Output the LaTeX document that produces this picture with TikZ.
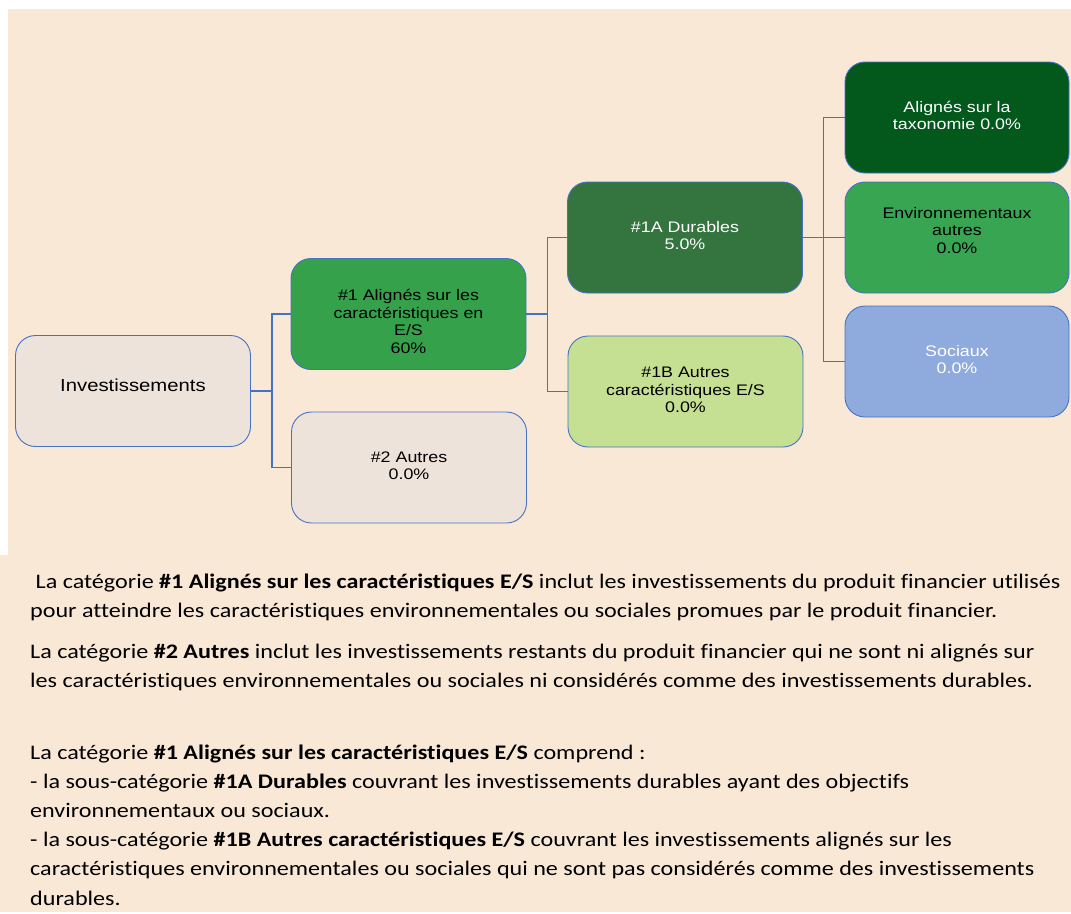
\documentclass[tikz,border=0pt]{standalone}
\usepackage{fontspec}
\usepackage{xcolor}
\usepackage{tikz}
\usetikzlibrary{positioning}
\usetikzlibrary{calc}

\newfontfamily\boitefont[FakeStretch=1.167]{Liberation Sans}
\newfontfamily\textefont[FakeStretch=1.165, Ligatures={NoCommon}]{Carlito}

\definecolor{peche}{HTML}{FAE8D7}
\definecolor{bordure}{HTML}{4472C4}
\definecolor{gris}{HTML}{EEE3DA}
\definecolor{vertA}{HTML}{35A24B}
\definecolor{vertB}{HTML}{34753F}
\definecolor{vertC}{HTML}{03581C}
\definecolor{vertD}{HTML}{38A553}
\definecolor{bleuS}{HTML}{8FAADC}
\definecolor{vertE}{HTML}{C6E093}

\newcommand{\lignes}[1]{\begin{tabular}{@{}c@{}}#1\end{tabular}}

\tikzset{
  boite/.style={draw=bordure, line width=0.9pt, rounded corners=20pt,
    minimum width=235pt, minimum height=111pt, inner sep=0pt,
    font=\boitefont\fontsize{15.3}{17.5}\selectfont},
  lien/.style={draw=bordure, line width=1.3pt},
  para/.style={anchor=base west, inner sep=0pt,
    font=\textefont\fontsize{20.7}{29.2}\selectfont}
}

\begin{document}
\begin{tikzpicture}[x=1pt, y=-1pt]
        % Fond
        \fill[white] (0,0) rectangle (1071,912);
        \fill[peche] (8,9) rectangle (1071,555);
        \fill[peche] (0,555) rectangle (1071,912);

        % Les boîtes
        \node[boite, fill=gris] (inv) at (133,391)
          {\lignes{\fontsize{17.4}{20}\selectfont Investissements\rule[-11.25pt]{0pt}{0pt}}};
        \node[boite, fill=vertA] (n1) at (408.5,314)
          {\lignes{\rule{0pt}{31.25pt}\#1 Alignés sur les\\ caractéristiques en\\ E/S\\ 60\%}};
        \node[boite, fill=gris] (n2) at (409,467.5)
          {\lignes{\#2 Autres\\ 0.0\%}};
        \node[boite, fill=vertB, text=white] (n1A) at (685,237.5)
          {\lignes{\#1A Durables\\ 5.0\%}};
        \node[boite, fill=vertE] (n1B) at (685.5,391.5)
          {\lignes{\#1B Autres\\ caractéristiques E/S\\ 0.0\%}};
        \node[boite, fill=vertC, text=white, minimum width=224pt] (tax) at (957,117.5)
          {\lignes{Alignés sur la\\ taxonomie 0.0\%}};
        \node[boite, fill=vertD, minimum width=224pt] (env) at (957,237.5)
          {\lignes{Environnementaux\\ autres\\ 0.0\%\rule[-16.25pt]{0pt}{0pt}}};
        \node[boite, fill=bleuS, text=white, minimum width=224pt] (soc) at (957,361.5)
          {\lignes{Sociaux\\ 0.0\%}};

        % Les liens
        \draw[lien] (inv.east) -- ++(21,0) coordinate (b1) |- (n1.west);
        \draw[lien] (b1) |- (n2.west);
        \draw[lien] (n1.east) -- ++(21,0) coordinate (b2) |- (n1A.west);
        \draw[lien] (b2) |- (n1B.west);
        \draw[lien] (n1A.east) -- ++(20.5,0) coordinate (b3) |- (tax.west);
        \draw[lien] (b3) -- (env.west);
        \draw[lien] (b3) |- (soc.west);

        % Le texte
        \node[para] (p1) at (30,588) {\begin{tabular}[t]{@{}l@{}}
          \ La catégorie \textbf{\#1 Alignés sur les caractéristiques E/S} inclut les investissements du produit financier utilisés\\
          pour atteindre les caractéristiques environnementales ou sociales promues par le produit financier.
        \end{tabular}};
        \node[para] (p2) at (30,658) {\begin{tabular}[t]{@{}l@{}}
          La catégorie \textbf{\#2 Autres} inclut les investissements restants du produit financier qui ne sont ni alignés sur\\
          les caractéristiques environnementales ou sociales ni considérés comme des investissements durables.
        \end{tabular}};
        \node[para] (p3) at (30,759) {\begin{tabular}[t]{@{}l@{}}
          La catégorie \textbf{\#1 Alignés sur les caractéristiques E/S} comprend :\\
          - la sous-catégorie \textbf{\#1A Durables} couvrant les investissements durables ayant des objectifs\\
          environnementaux ou sociaux.\\
          - la sous-catégorie \textbf{\#1B Autres caractéristiques E/S} couvrant les investissements alignés sur les\\
          caractéristiques environnementales ou sociales qui ne sont pas considérés comme des investissements\\
          durables.
        \end{tabular}};
\end{tikzpicture}
\end{document}
